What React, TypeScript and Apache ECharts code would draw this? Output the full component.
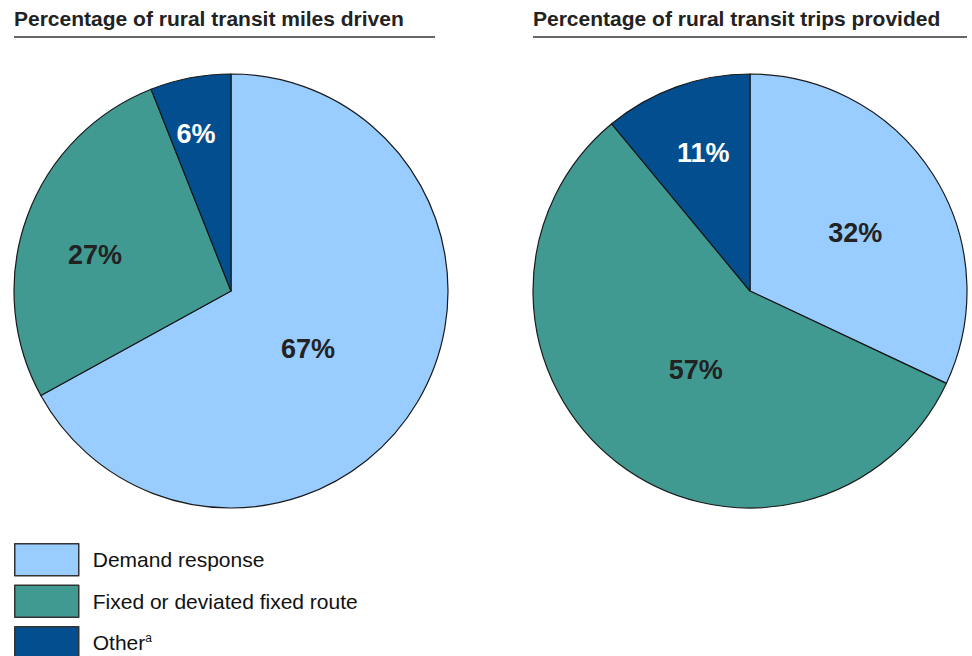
import React, { useEffect, useRef } from "react";
import * as echarts from "echarts";

const categories = ["Demand response", "Fixed or deviated fixed route", "Other"];
const milesValues = [67, 27, 6];
const tripsValues = [32, 57, 11];
const titles = ["Percentage of rural transit miles driven", "Percentage of rural transit trips provided"];
const colors = ["#99CCFF", "#419A92", "#034E8E"];
const labelColors = ["#222222", "#222222", "#ffffff"];
const milesOffsets = [[-19, 1], [-31, 2], [-14, -47]];
const tripsOffsets = [[11, 2], [14, -9], [-9, -33]];

export default function App() {
  const ref = useRef<HTMLDivElement>(null);
  useEffect(() => {
    document.body.style.margin = "0";
    const chart = echarts.init(ref.current!, null, { renderer: "svg" });
    const mk = (vals: number[], offs: number[][], cx: number) => ({
      type: "pie",
      center: [cx, 291],
      radius: [0, 217],
      startAngle: 90,
      clockwise: true,
      silent: true,
      label: {
        show: true,
        position: "inside",
        formatter: "{c}%",
        fontSize: 27,
        fontWeight: "bold",
        fontFamily: "Liberation Sans, Arial, sans-serif",
      },
      labelLine: { show: false },
      itemStyle: { borderColor: "#1a1a1a", borderWidth: 1.2 },
      emphasis: { disabled: true },
      data: categories.map((c, i) => ({
        name: c,
        value: vals[i],
        itemStyle: { color: colors[i] },
        label: { color: labelColors[i], offset: offs[i] },
      })),
    });
    chart.setOption({
      animation: false,
      title: [
        { text: titles[0], left: 14, top: 8 },
        { text: titles[1], left: 533, top: 8 },
      ].map((t) => ({
        ...t,
        padding: 0,
        textStyle: { fontSize: 21, fontWeight: "bold", color: "#222", fontFamily: "Liberation Sans, Arial, sans-serif" },
      })),
      graphic: [
        { type: "line", shape: { x1: 14, y1: 37, x2: 435, y2: 37 }, style: { stroke: "#333", lineWidth: 1.5 } },
        { type: "line", shape: { x1: 533, y1: 37, x2: 967, y2: 37 }, style: { stroke: "#333", lineWidth: 1.5 } },
      ],
      legend: {
        orient: "vertical",
        left: 14,
        top: 543,
        height: 200,
        padding: 0,
        itemWidth: 64,
        itemHeight: 32,
        itemGap: 8,
        icon: "rect",
        selectedMode: false,
        itemStyle: { borderColor: "#333", borderWidth: 1.5 },
        formatter: (n: string) => (n === "Other" ? "Other{sup|a}" : n),
        textStyle: {
          fontSize: 21,
          color: "#111",
          padding: [0, 0, 0, 9],
          fontFamily: "Liberation Sans, Arial, sans-serif",
          rich: { sup: { fontSize: 12, padding: [0, 0, 9, 0], color: "#111", fontFamily: "Liberation Sans, Arial, sans-serif" } },
        },
        data: categories,
      },
      series: [mk(milesValues, milesOffsets, 231), mk(tripsValues, tripsOffsets, 750)],
    });
    return () => chart.dispose();
  }, []);
  return <div ref={ref} style={{ width: 972, height: 656 }} />;
}
